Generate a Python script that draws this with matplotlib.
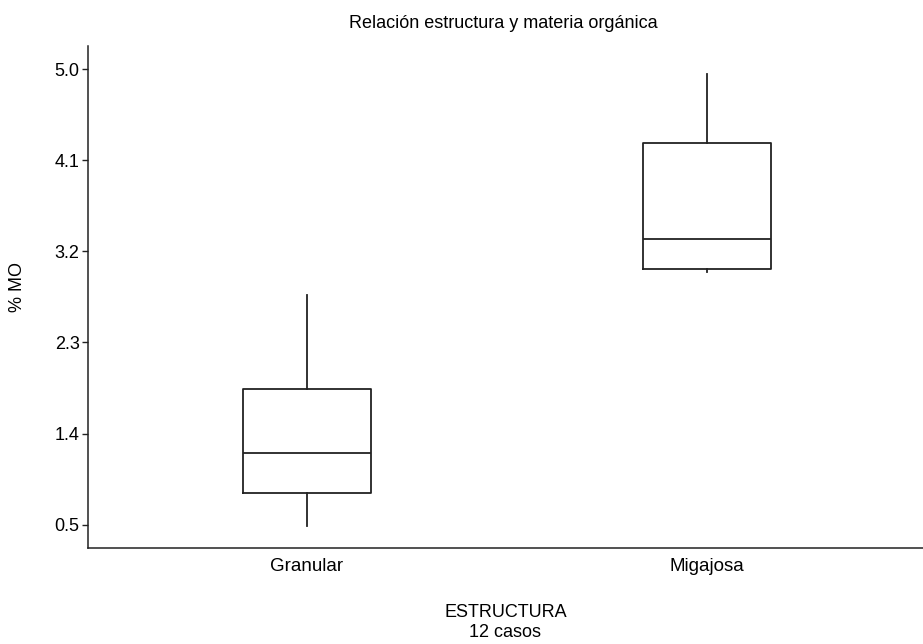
import matplotlib.pyplot as plt

plt.rcParams['font.family'] = ['Liberation Sans', 'DejaVu Sans']

categorias = ["Granular", "Migajosa"]
bigote_inf = [0.49, 3.00]
q1 = [0.81, 3.03]
mediana = [1.21, 3.32]
q3 = [1.84, 4.27]
bigote_sup = [2.77, 4.95]
ticks_y = [0.5, 1.4, 2.3, 3.2, 4.1, 5.0]

stats = []
for i, c in enumerate(categorias):
    stats.append(dict(label=c, whislo=bigote_inf[i], q1=q1[i], med=mediana[i],
                      q3=q3[i], whishi=bigote_sup[i], fliers=[]))

fig = plt.figure(figsize=(9.23, 6.44), dpi=100)
ax = fig.add_axes([0.0953, 0.149, 0.9047, 0.78])

linea = dict(color="#222222", linewidth=1.3)
ax.bxp(stats, positions=[0, 1], widths=0.32, showcaps=False, showfliers=False,
       boxprops=linea, whiskerprops=linea, medianprops=linea)

ax.set_xlim(-0.5475, 1.54)
ax.set_ylim(0.27, 5.23)
ax.set_yticks(ticks_y)
ax.set_yticklabels([f"{v:.1f}" for v in ticks_y])
ax.spines["top"].set_visible(False)
ax.spines["right"].set_visible(False)
for s in ["left", "bottom"]:
    ax.spines[s].set_color("#222222")
    ax.spines[s].set_linewidth(1.1)
ax.tick_params(axis="y", length=4, width=1, color="#222222", labelsize=13, pad=2)
ax.tick_params(axis="x", length=0, labelsize=13.5, pad=7)

ax.set_title("Relación estructura y materia orgánica", fontsize=13, pad=13, x=0.497)
ax.set_xlabel("ESTRUCTURA\n12 casos", fontsize=13, labelpad=21, linespacing=1.25)
ax.set_ylabel("% MO", fontsize=13)
ax.yaxis.set_label_coords(-0.074, 0.52)

fig.savefig("out.png", dpi=100)
